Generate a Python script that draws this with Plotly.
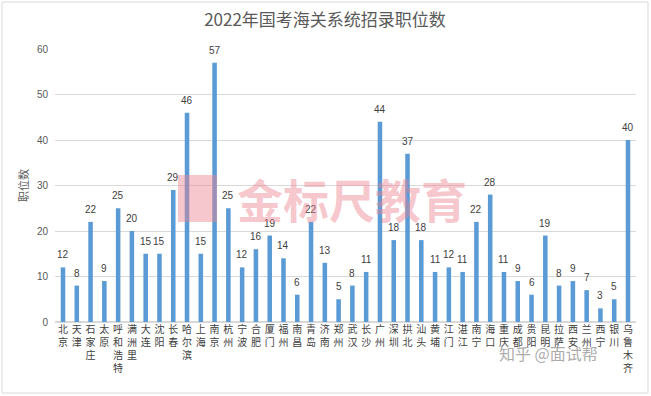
import plotly.graph_objects as go

categories = ["北京", "天津", "石家庄", "太原", "呼和浩特", "满洲里", "大连", "沈阳", "长春", "哈尔滨",
              "上海", "南京", "杭州", "宁波", "合肥", "厦门", "福州", "南昌", "青岛", "济南",
              "郑州", "武汉", "长沙", "广州", "深圳", "拱北", "汕头", "黄埔", "江门", "湛江",
              "南宁", "海口", "重庆", "成都", "贵阳", "昆明", "拉萨", "西安", "兰州", "西宁",
              "银川", "乌鲁木齐"]
positions = [12, 8, 22, 9, 25, 20, 15, 15, 29, 46,
             15, 57, 25, 12, 16, 19, 14, 6, 22, 13,
             5, 8, 11, 44, 18, 37, 18, 11, 12, 11,
             22, 28, 11, 9, 6, 19, 8, 9, 7, 3,
             5, 40]
y_ticks = [0, 10, 20, 30, 40, 50, 60]

W, H = 651, 396
ML, MR, MT, MB = 55, 15, 49, 74

fig = go.Figure()
fig.add_trace(go.Bar(
    x=categories, y=positions,
    marker=dict(color="#5B9BD5", line=dict(width=0)),
    width=0.33,
))

for c, v in zip(categories, positions):
    fig.add_annotation(x=c, y=v, text=str(v), showarrow=False, yanchor="bottom",
                       yshift=5, font=dict(size=10, color="#404040",
                                           family="Liberation Sans, Arial, sans-serif"))

pw = W - ML - MR
ph = H - MT - MB
# chart border
fig.add_shape(type="rect", xref="paper", yref="paper",
              x0=(2 - ML) / pw, x1=(W - 3 - ML) / pw,
              y0=-(MB - 3) / ph, y1=1 + (MT - 2) / ph,
              line=dict(color="#d9d9d9", width=1), fillcolor="rgba(0,0,0,0)", layer="below")

# watermark logo and text
fig.add_shape(type="rect", xref="paper", yref="paper",
              x0=(178 - ML) / pw, x1=(217 - ML) / pw,
              y0=(H - MB - 222) / ph, y1=(H - MB - 175) / ph,
              line=dict(color="rgba(236,130,145,0.45)", width=0),
              fillcolor="rgba(236,130,145,0.45)")
fig.add_annotation(xref="paper", yref="paper", x=(352 - ML) / pw, y=(H - MB - 198) / ph,
                   text="<b>金标尺教育</b>", showarrow=False,
                   font=dict(size=46, color="rgba(236,130,145,0.45)", family="Noto Sans CJK SC"))
fig.add_annotation(xref="paper", yref="paper", x=(600 - ML) / pw, y=(H - MB - 367) / ph,
                   text="知乎 @面试帮", showarrow=False,
                   font=dict(size=16, color="rgba(150,150,150,0.8)", family="Noto Sans CJK SC"))

ticktext = ["<br>".join(list(c)) for c in categories]

fig.update_layout(
    width=W, height=H,
    margin=dict(l=ML, r=MR, t=MT, b=MB),
    paper_bgcolor="white", plot_bgcolor="white",
    title=dict(text="2022年国考海关系统招录职位数", x=(325 - ML) / pw, xref="paper", xanchor="center",
               y=1 - 20 / H, yanchor="middle",
               font=dict(size=17, color="#595959", family="Noto Sans CJK SC")),
    showlegend=False,
    bargap=0.6,
    xaxis=dict(tickmode="array", tickvals=categories, ticktext=ticktext, tickangle=0,
               tickfont=dict(size=10, color="#404040", family="Noto Sans CJK SC"),
               showgrid=False, showline=False, ticks="", ticklen=0, automargin=False),
    yaxis=dict(range=[0, 60], tickvals=y_ticks, showgrid=True, gridcolor="#d9d9d9",
               zeroline=True, zerolinecolor="#d9d9d9", showline=False, automargin=False,
               tickfont=dict(size=10, color="#595959", family="Liberation Sans, Arial, sans-serif"),
               ticks="", ticklabelstandoff=6,
               title=dict(text="职位数", standoff=6,
                          font=dict(size=11, color="#595959", family="Noto Sans CJK SC"))),
    font=dict(family="Noto Sans CJK SC"),
)

fig.write_html("out.html", config={"displayModeBar": False},
               post_script="document.body.style.margin='0';document.body.style.overflow='hidden';")
